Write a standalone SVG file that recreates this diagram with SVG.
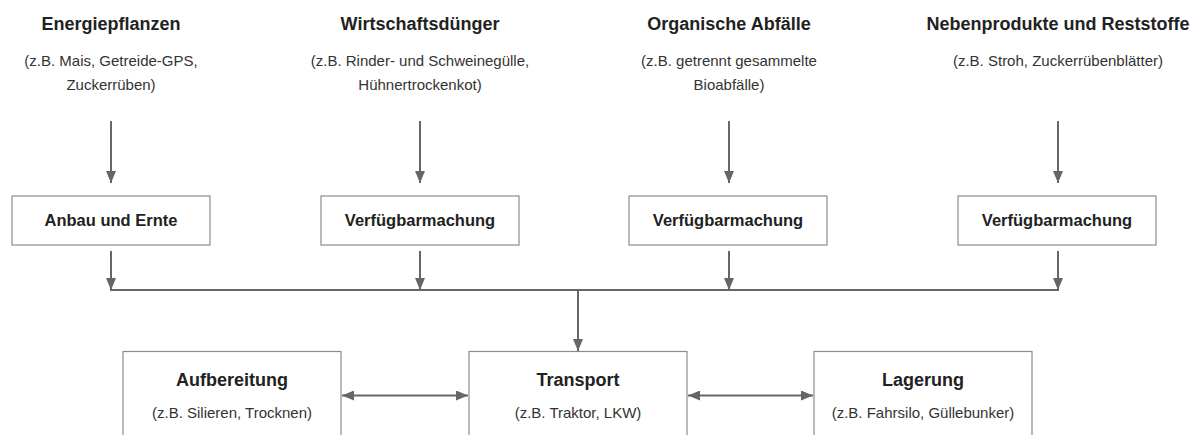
<svg xmlns="http://www.w3.org/2000/svg" width="1200" height="435" viewBox="0 0 1200 435">
  <defs>
    <marker id="arrow" viewBox="0 0 12 10" refX="12" refY="5" markerWidth="12" markerHeight="10" markerUnits="userSpaceOnUse" orient="auto-start-reverse">
      <path d="M0,0 L12,5 L0,10 Z" fill="#666666"/>
    </marker>
    <style>
      .title { font-family: "Liberation Sans", Arial, sans-serif; font-weight: bold; font-size: 18px; fill: #222222; text-anchor: middle; }
      .label { font-family: "Liberation Sans", Arial, sans-serif; font-weight: bold; font-size: 16.5px; fill: #222222; text-anchor: middle; }
      .note { font-family: "Liberation Sans", Arial, sans-serif; font-size: 15px; fill: #333333; text-anchor: middle; }
      .box { fill: #ffffff; stroke: #8c8c8c; stroke-width: 1.2; }
      .conn { fill: none; stroke: #666666; stroke-width: 2; }
    </style>
  </defs>

  <rect width="1200" height="435" fill="#ffffff"/>

  <!-- Rohstoffgruppen -->
  <g id="energiepflanzen">
    <text class="title" x="111" y="30">Energiepflanzen</text>
    <text class="note" x="111" y="66">(z.B. Mais, Getreide-GPS,</text>
    <text class="note" x="111" y="90">Zuckerrüben)</text>
  </g>
  <g id="wirtschaftsduenger">
    <text class="title" x="420" y="30">Wirtschaftsdünger</text>
    <text class="note" x="420" y="66">(z.B. Rinder- und Schweinegülle,</text>
    <text class="note" x="420" y="90">Hühnertrockenkot)</text>
  </g>
  <g id="organische-abfaelle">
    <text class="title" x="729" y="30">Organische Abfälle</text>
    <text class="note" x="729" y="66">(z.B. getrennt gesammelte</text>
    <text class="note" x="729" y="90">Bioabfälle)</text>
  </g>
  <g id="nebenprodukte">
    <text class="title" x="1058" y="30">Nebenprodukte und Reststoffe</text>
    <text class="note" x="1058" y="66">(z.B. Stroh, Zuckerrübenblätter)</text>
  </g>

  <!-- Bereitstellungsschritte -->
  <g id="anbau-ernte">
    <rect class="box" x="12" y="196" width="198" height="49"/>
    <text class="label" x="111" y="226">Anbau und Ernte</text>
  </g>
  <g id="verfuegbarmachung-1">
    <rect class="box" x="321" y="196" width="198" height="49"/>
    <text class="label" x="420" y="226">Verfügbarmachung</text>
  </g>
  <g id="verfuegbarmachung-2">
    <rect class="box" x="629" y="196" width="198" height="49"/>
    <text class="label" x="728" y="226">Verfügbarmachung</text>
  </g>
  <g id="verfuegbarmachung-3">
    <rect class="box" x="958" y="196" width="198" height="49"/>
    <text class="label" x="1057" y="226">Verfügbarmachung</text>
  </g>

  <!-- Logistik -->
  <g id="aufbereitung">
    <rect class="box" x="123" y="351.5" width="218" height="100"/>
    <text class="title" x="232" y="386">Aufbereitung</text>
    <text class="note" x="232" y="418">(z.B. Silieren, Trocknen)</text>
  </g>
  <g id="transport">
    <rect class="box" x="469" y="351.5" width="218" height="100"/>
    <text class="title" x="578" y="386">Transport</text>
    <text class="note" x="578" y="418">(z.B. Traktor, LKW)</text>
  </g>
  <g id="lagerung">
    <rect class="box" x="814" y="351.5" width="218" height="100"/>
    <text class="title" x="923" y="386">Lagerung</text>
    <text class="note" x="923" y="418">(z.B. Fahrsilo, Güllebunker)</text>
  </g>

  <g id="connectors">
    <!-- Rohstoff -> Bereitstellung -->
    <line class="conn" x1="111" y1="121" x2="111" y2="183" marker-end="url(#arrow)"/>
    <line class="conn" x1="420" y1="121" x2="420" y2="183" marker-end="url(#arrow)"/>
    <line class="conn" x1="729" y1="121" x2="729" y2="183" marker-end="url(#arrow)"/>
    <line class="conn" x1="1058" y1="121" x2="1058" y2="183" marker-end="url(#arrow)"/>
    <!-- Bereitstellung -> Sammelschiene -->
    <line class="conn" x1="111" y1="251" x2="111" y2="290" marker-end="url(#arrow)"/>
    <line class="conn" x1="420" y1="251" x2="420" y2="290" marker-end="url(#arrow)"/>
    <line class="conn" x1="729" y1="251" x2="729" y2="290" marker-end="url(#arrow)"/>
    <line class="conn" x1="1058" y1="251" x2="1058" y2="290" marker-end="url(#arrow)"/>
    <line class="conn" x1="110" y1="290" x2="1059" y2="290"/>
    <!-- Sammelschiene -> Transport -->
    <line class="conn" x1="578" y1="290" x2="578" y2="351" marker-end="url(#arrow)"/>
    <!-- Wechselbeziehungen -->
    <line class="conn" x1="342" y1="395.5" x2="468" y2="395.5" marker-start="url(#arrow)" marker-end="url(#arrow)"/>
    <line class="conn" x1="688" y1="395.5" x2="813" y2="395.5" marker-start="url(#arrow)" marker-end="url(#arrow)"/>
  </g>
</svg>
